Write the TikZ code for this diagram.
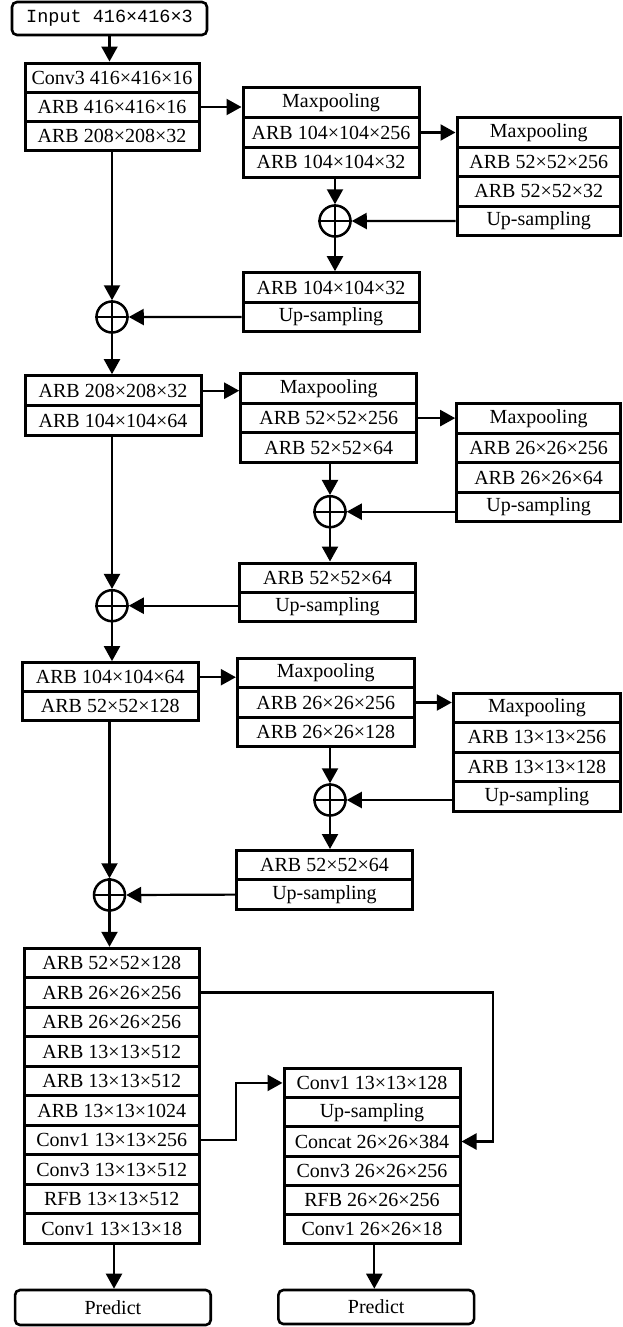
\documentclass[tikz,border=0pt]{standalone}
\usepackage{fontspec}
\setmainfont{Liberation Serif}
\newfontfamily\monof{Liberation Mono}
\usetikzlibrary{arrows.meta}
\newcommand{\fs}{\fontsize{20}{22}\selectfont}
\tikzset{
 blk/.style={draw, line width=3pt, inner sep=0pt, font=\fs},
 conn/.style={line width=2.2pt, -{Triangle[length=15pt,width=16pt]}},
 plus/.style={circle, draw, line width=2.5pt, minimum size=31pt, inner sep=0pt},
 term/.style={draw, rounded corners=5pt, line width=2.6pt, inner sep=0pt, font=\fs},
}
\begin{document}
\begin{tikzpicture}[x=1pt,y=-1pt]
\useasboundingbox (0,0) rectangle (622,1327);
% input
\node[term, minimum width=195pt, minimum height=33pt, font=\monof\fontsize{18.5}{22}\selectfont] (in) at (109.5,18.5) {Input 416×416×3};
% A
\begin{scope}[every node/.style={blk, minimum width=174pt, minimum height=29.33pt}]
\node (a1) at (112,77.7) {Conv3 416×416×16};
\node (a2) at (112,107) {ARB 416×416×16};
\node (a3) at (112,136.3) {ARB 208×208×32};
\end{scope}
% B
\begin{scope}[every node/.style={blk, minimum width=176pt, minimum height=29.67pt}]
\node (b1) at (331,102.8) {Maxpooling};
\node (b2) at (331,132.5) {ARB 104×104×256};
\node (b3) at (331,162.2) {ARB 104×104×32};
\end{scope}
% C
\begin{scope}[every node/.style={blk, minimum width=163.5pt, minimum height=29.5pt}]
\node (c1) at (538.75,132.4) {Maxpooling};
\node (c2) at (538.75,161.9) {ARB 52×52×256};
\node (c3) at (538.75,191.4) {ARB 52×52×32};
\node (c4) at (538.75,220.9) {Up-sampling};
\end{scope}
% D
\begin{scope}[every node/.style={blk, minimum width=176pt, minimum height=29.5pt}]
\node (d1) at (331,287.45) {ARB 104×104×32};
\node (d2) at (331,316.95) {Up-sampling};
\end{scope}
% E
\begin{scope}[every node/.style={blk, minimum width=176pt, minimum height=30pt}]
\node (e1) at (113,390.7) {ARB 208×208×32};
\node (e2) at (113,420.7) {ARB 104×104×64};
\end{scope}
% F
\begin{scope}[every node/.style={blk, minimum width=176pt, minimum height=29.43pt}]
\node (f1) at (328.7,388.7) {Maxpooling};
\node (f2) at (328.7,418.1) {ARB 52×52×256};
\node (f3) at (328.7,447.6) {ARB 52×52×64};
\end{scope}
% G
\begin{scope}[every node/.style={blk, minimum width=163.8pt, minimum height=29.43pt}]
\node (g1) at (538.6,418.7) {Maxpooling};
\node (g2) at (538.6,448.1) {ARB 26×26×256};
\node (g3) at (538.6,477.6) {ARB 26×26×64};
\node (g4) at (538.6,507.0) {Up-sampling};
\end{scope}
% H
\begin{scope}[every node/.style={blk, minimum width=176.4pt, minimum height=29.35pt}]
\node (h1) at (327.5,577.7) {ARB 52×52×64};
\node (h2) at (327.5,607.0) {Up-sampling};
\end{scope}
% I
\begin{scope}[every node/.style={blk, minimum width=176pt, minimum height=29.15pt}]
\node (i1) at (110.3,677.2) {ARB 104×104×64};
\node (i2) at (110.3,706.4) {ARB 52×52×128};
\end{scope}
% J
\begin{scope}[every node/.style={blk, minimum width=176.7pt, minimum height=29.47pt}]
\node (j1) at (325.7,673.0) {Maxpooling};
\node (j2) at (325.7,702.5) {ARB 26×26×256};
\node (j3) at (325.7,732.0) {ARB 26×26×128};
\end{scope}
% K
\begin{scope}[every node/.style={blk, minimum width=167.2pt, minimum height=29.43pt}]
\node (k1) at (536.9,708.0) {Maxpooling};
\node (k2) at (536.9,737.4) {ARB 13×13×256};
\node (k3) at (536.9,766.9) {ARB 13×13×128};
\node (k4) at (536.9,796.3) {Up-sampling};
\end{scope}
% L
\begin{scope}[every node/.style={blk, minimum width=175.6pt, minimum height=29.4pt}]
\node (l1) at (324.5,865.2) {ARB 52×52×64};
\node (l2) at (324.5,894.6) {Up-sampling};
\end{scope}
% M
\begin{scope}[every node/.style={blk, minimum width=175.3pt, minimum height=29.5pt}]
\node (m1) at (111.7,963.05) {ARB 52×52×128};
\node (m2) at (111.7,992.55) {ARB 26×26×256};
\node (m3) at (111.7,1022.05) {ARB 26×26×256};
\node (m4) at (111.7,1051.55) {ARB 13×13×512};
\node (m5) at (111.7,1081.05) {ARB 13×13×512};
\node (m6) at (111.7,1110.55) {ARB 13×13×1024};
\node (m7) at (111.7,1140.05) {Conv1 13×13×256};
\node (m8) at (111.7,1169.55) {Conv3 13×13×512};
\node (m9) at (111.7,1199.05) {RFB 13×13×512};
\node (m10) at (111.7,1228.55) {Conv1 13×13×18};
\end{scope}
% N
\begin{scope}[every node/.style={blk, minimum width=176pt, minimum height=29.28pt}]
\node (n1) at (372,1082.94) {Conv1 13×13×128};
\node (n2) at (372,1112.22) {Up-sampling};
\node (n3) at (372,1141.5) {Concat 26×26×384};
\node (n4) at (372,1170.78) {Conv3 26×26×256};
\node (n5) at (372,1200.06) {RFB 26×26×256};
\node (n6) at (372,1229.34) {Conv1 26×26×18};
\end{scope}
% outputs
\node[term, minimum width=195.7pt, minimum height=35pt] (o1) at (112.9,1307.5) {Predict};
\node[term, minimum width=195.7pt, minimum height=34pt] (o2) at (376.2,1307) {Predict};
% plus nodes
\node[plus] (p1) at (335,221) {};
\node[plus] (p2) at (112,317) {};
\node[plus] (p3) at (330,511.7) {};
\node[plus] (p4) at (112,605.7) {};
\node[plus] (p5) at (330,800) {};
\node[plus] (p6) at (109.5,895) {};
\foreach \p in {p1,p2,p3,p4,p5,p6}
  \draw[line width=2.2pt] (\p.north) -- (\p.south) (\p.west) -- (\p.east);
% connectors
\draw[conn] (in.south) -- (in.south |- a1.north);
\draw[conn] (a2.east) -- (a2.east -| b1.west);
\draw[conn] (b2.east) -- (b2.east -| c1.west);
\draw[conn] (p1 |- b3.south) -- (p1.north);
\draw[conn] (c4.west) -- (p1.east);
\draw[conn] (p1.south) -- (p1 |- d1.north);
\draw[conn] (p2 |- a3.south) -- (p2.north);
\draw[conn] (d2.west) -- (p2.east);
\draw[conn] (p2.south) -- (p2 |- e1.north);
\draw[conn] (e1.east) -- (e1.east -| f1.west);
\draw[conn] (f2.east) -- (f2.east -| g1.west);
\draw[conn] (p3 |- f3.south) -- (p3.north);
\draw[conn] (p3 -| g4.west) -- (p3.east);
\draw[conn] (p3.south) -- (p3 |- h1.north);
\draw[conn] (p4 |- e2.south) -- (p4.north);
\draw[conn] (p4 -| h2.west) -- (p4.east);
\draw[conn] (p4.south) -- (p4 |- i1.north);
\draw[conn] (i1.east) -- (i1.east -| j1.west);
\draw[conn] (j2.east) -- (j2.east -| k1.west);
\draw[conn] (p5 |- j3.south) -- (p5.north);
\draw[conn] (p5 -| k4.west) -- (p5.east);
\draw[conn] (p5.south) -- (p5 |- l1.north);
\draw[conn] (p6 |- i2.south) -- (p6.north);
\draw[conn] (l2.west) -- (p6.east);
\draw[conn] (p6.south) -- (p6 |- m1.north);
\coordinate (rt) at (493.3,0);
\coordinate (lt) at (236,0);
\draw[conn] (m2.east) -- (m2.east -| rt) -- (n3.east -| rt) -- (n3.east);
\draw[conn] (m7.east) -- (m7.east -| lt) -- (n1.west -| lt) -- (n1.west);
\coordinate (d1x) at (114,0);
\draw[conn] (m10.south -| d1x) -- (o1.north -| d1x);
\coordinate (d2x) at (374.3,0);
\draw[conn] (n6.south -| d2x) -- (o2.north -| d2x);
\end{tikzpicture}
\end{document}
